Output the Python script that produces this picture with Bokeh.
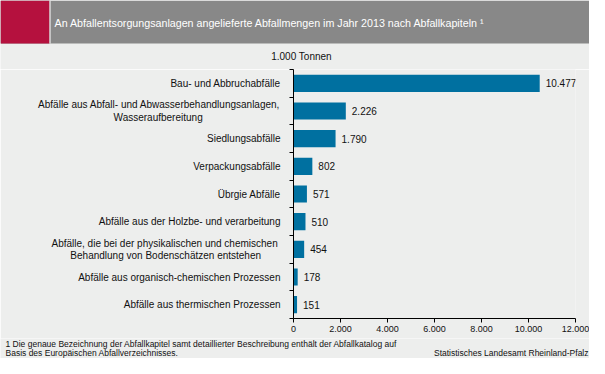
from bokeh.plotting import figure
from bokeh.models import Range1d, FixedTicker, LabelSet, ColumnDataSource
from bokeh.layouts import column
from bokeh.core.properties import value
from bokeh.embed import file_html
from bokeh.resources import INLINE

# ---------------- data ----------------
title_text = "An Abfallentsorgungsanlagen angelieferte Abfallmengen im Jahr 2013 nach Abfallkapiteln ¹"
unit_text = "1.000 Tonnen"
categories = [
    ["Bau- und Abbruchabfälle"],
    ["Abfälle aus Abfall- und Abwasserbehandlungsanlagen,", "Wasseraufbereitung"],
    ["Siedlungsabfälle"],
    ["Verpackungsabfälle"],
    ["Übrgie Abfälle"],
    ["Abfälle aus der Holzbe- und verarbeitung"],
    ["Abfälle, die  bei der physikalischen und chemischen", "Behandlung von Bodenschätzen entstehen"],
    ["Abfälle aus organisch-chemischen Prozessen"],
    ["Abfälle aus thermischen Prozessen"],
]
values = [10477, 2226, 1790, 802, 571, 510, 454, 178, 151]
x_ticks = [0, 2000, 4000, 6000, 8000, 10000, 12000]
x_tick_labels = ["0", "2.000", "4.000", "6.000", "8.000", "10.000", "12.000"]
footnote_lines = [
    "1 Die genaue Bezeichnung der Abfallkapitel samt detaillierter Beschreibung enthält der Abfallkatalog auf",
    "Basis des Europäischen Abfallverzeichnisses.",
]
source_text = "Statistisches Landesamt Rheinland-Pfalz"

# ---------------- style ----------------
FONT = "Liberation Sans"
BG = "#edeeed"
HEADER_GRAY = "#888888"
HEADER_RED = "#b5113e"
BAR = "#0070a0"
TXT = "#111111"

W = 589
TOP_H = 69
FOOT_H = 20
MAIN_H = 358 - TOP_H - FOOT_H
FRAME_LEFT = 293
FRAME_RIGHT_BORDER = 14
N = len(values)


def no_align(fig):
    try:
        fig.frame_align = False
    except Exception:
        pass


def blank(height):
    f = figure(width=W, height=height, x_range=Range1d(0, W), y_range=Range1d(height, 0),
               min_border=0, toolbar_location=None, output_backend="svg",
               x_axis_location=None, y_axis_location=None)
    f.grid.visible = False
    f.outline_line_color = None
    f.background_fill_color = BG
    f.border_fill_color = BG
    no_align(f)
    return f


# ---------------- header (band + unit) ----------------
h = blank(TOP_H)  # y measured from the top in pixels
h.quad(left=[0], right=[W], top=[0], bottom=[43], color=HEADER_GRAY, line_color=None)
h.quad(left=[0], right=[49], top=[0], bottom=[43], color=HEADER_RED, line_color=None)
h.quad(left=[49], right=[50], top=[0], bottom=[43], color="white", line_color=None)
h.text(x=[54], y=[22], text=[title_text], text_color="white",
       text_font=value(FONT), text_font_size="10.7px", text_baseline="middle")
h.text(x=[301], y=[56], text=[unit_text], text_color=TXT, text_align="center",
       text_font=value(FONT), text_font_size="10px", text_baseline="middle")

# ---------------- main chart ----------------
p = figure(width=W, height=MAIN_H, x_range=Range1d(0, 12000), y_range=Range1d(N, 0),
           min_border_left=FRAME_LEFT, min_border_right=FRAME_RIGHT_BORDER,
           min_border_top=0, min_border_bottom=20,
           toolbar_location=None, output_backend="svg")
no_align(p)
p.background_fill_color = BG
p.border_fill_color = BG
p.outline_line_color = None
p.grid.visible = False

ys = [i + 0.5 for i in range(N)]
src = ColumnDataSource(dict(y=ys, v=values,
                            lab=[f"{v:,}".replace(",", ".") for v in values]))
p.hbar(y="y", left=0, right="v", height=0.62, source=src, color=BAR, line_color=None)
p.add_layout(LabelSet(x="v", y="y", text="lab", source=src, x_offset=6,
                      text_baseline="middle", text_font=value(FONT),
                      text_font_size="10px", text_color=TXT))

xa = p.xaxis[0]
xa.ticker = FixedTicker(ticks=x_ticks)
xa.major_label_overrides = {t: l for t, l in zip(x_ticks, x_tick_labels)}
xa.major_tick_in = 0
xa.major_tick_out = 4
xa.minor_tick_line_color = None
xa.axis_line_color = "black"
xa.major_tick_line_color = "black"
xa.major_label_text_font = FONT
xa.major_label_text_font_size = "9px"
xa.major_label_text_color = TXT
xa.major_label_standoff = 3

# category labels on the y axis; second lines padded so they sit centred under the first
pad = {1: 28, 6: 7}
cat_labels = {}
for i, lines in enumerate(categories):
    if len(lines) == 1:
        cat_labels[ys[i]] = lines[0]
    else:
        cat_labels[ys[i]] = lines[0] + "\n" + lines[1] + "\u00a0" * pad[i]

ya = p.yaxis[0]
ya.ticker = FixedTicker(ticks=ys, minor_ticks=list(range(N + 1)))
ya.major_label_overrides = cat_labels
ya.major_tick_in = 0
ya.major_tick_out = 0
ya.minor_tick_in = 0
ya.minor_tick_out = 4
ya.axis_line_color = "black"
ya.minor_tick_line_color = "black"
ya.major_label_text_font = FONT
ya.major_label_text_font_size = "10px"
ya.major_label_text_color = TXT
ya.major_label_text_line_height = 1.1
ya.major_label_standoff = 9

# ---------------- footer ----------------
f = blank(FOOT_H)  # y measured from the top in pixels
f.text(x=[5, 5], y=[5, 14], text=footnote_lines, text_color=TXT,
       text_font=value(FONT), text_font_size="8.5px", text_baseline="middle")
f.text(x=[588], y=[14], text=[source_text], text_color=TXT, text_align="right",
       text_font=value(FONT), text_font_size="8.5px", text_baseline="middle")

layout = column(h, p, f, spacing=0)
open("out.html", "w").write(file_html(layout, INLINE))
